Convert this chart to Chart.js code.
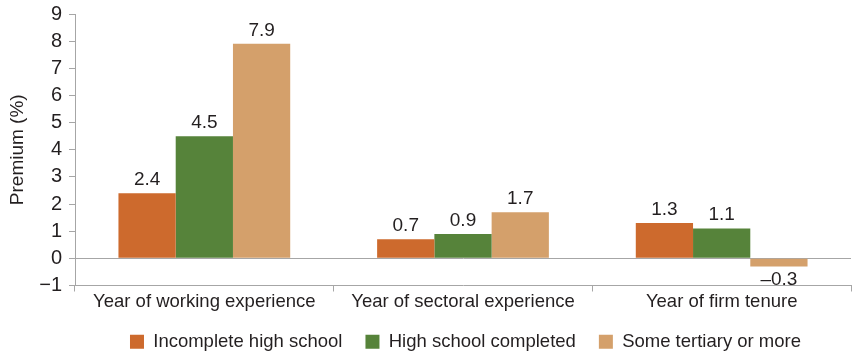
<!DOCTYPE html>
<html>
<head>
<meta charset="utf-8">
<script src="https://cdn.jsdelivr.net/npm/chart.js@4"></script>
<style>
  html, body { margin: 0; padding: 0; background: #fff; }
  #wrap { width: 852px; height: 354px; }
</style>
</head>
<body>
<div id="wrap"><canvas id="premiumChart"></canvas></div>
<script>
// Returns to experience by education level
const categories = ["Year of working experience", "Year of sectoral experience", "Year of firm tenure"];
const incompleteHighSchool = [2.4, 0.7, 1.3];
const highSchoolCompleted = [4.5, 0.9, 1.1];
const someTertiary = [7.9, 1.7, -0.3];
const yTicks = [-1, 0, 1, 2, 3, 4, 5, 6, 7, 8, 9];

const FONT = "'Liberation Sans', Arial, sans-serif";
const TEXT = "#231f20";
const AXIS = "#a6a6a6";

// value labels above (or below) each bar
const barLabels = {
  id: "barLabels",
  afterDatasetsDraw(chart) {
    const ctx = chart.ctx;
    ctx.save();
    ctx.font = "19px " + FONT;
    ctx.fillStyle = TEXT;
    ctx.textAlign = "center";
    ctx.textBaseline = "alphabetic";
    chart.data.datasets.forEach((ds, i) => {
      chart.getDatasetMeta(i).data.forEach((bar, j) => {
        const v = ds.data[j];
        const txt = v < 0 ? "\u2013" + Math.abs(v).toFixed(1) : v.toFixed(1);
        if (v >= 0) {
          ctx.fillText(txt, bar.x, bar.y - 8);
        } else {
          ctx.fillText(txt, bar.x, bar.y + 19);
        }
      });
    });
    ctx.restore();
  },
};

// centre the legend under the plot area rather than the whole canvas
const legendShift = {
  id: "legendShift",
  afterLayout(chart) {
    const lg = chart.legend;
    if (!lg) return;
    lg.left = chart.chartArea.left + 5;
    lg.top -= 2;
    lg.bottom -= 2;
  },
};

const ctx = document.getElementById("premiumChart").getContext("2d");
new Chart(ctx, {
  type: "bar",
  data: {
    labels: categories,
    datasets: [
      {
        label: "Incomplete high school",
        data: incompleteHighSchool,
        backgroundColor: "#cd6a2d",
      },
      {
        label: "High school completed",
        data: highSchoolCompleted,
        backgroundColor: "#56833a",
      },
      {
        label: "Some tertiary or more",
        data: someTertiary,
        backgroundColor: "#d4a06b",
      },
    ],
  },
  options: {
    responsive: true,
    maintainAspectRatio: false,
    animation: false,
    layout: { padding: { top: 14, right: 1, left: 0, bottom: -9 } },
    datasets: {
      bar: { categoryPercentage: 0.664, barPercentage: 1.0 },
    },
    plugins: {
      legend: {
        position: "bottom",
        labels: {
          font: { size: 18.5, family: FONT },
          color: TEXT,
          boxWidth: 14,
          boxHeight: 14,
          padding: 23,
        },
      },
      tooltip: { enabled: false },
    },
    scales: {
      x: {
        afterFit(axis) {
          axis.height = 26;
        },
        grid: {
          display: true,
          offset: true,
          drawOnChartArea: false,
          color: AXIS,
          tickColor: AXIS,
          tickLength: 6,
        },
        border: { color: AXIS, width: 1 },
        ticks: {
          color: TEXT,
          font: { size: 18.5, family: FONT },
          padding: -1,
        },
      },
      y: {
        min: -1,
        max: 9,
        afterFit(axis) {
          axis.width = 75;
          axis.paddingTop = 0;
          axis.paddingBottom = 0;
        },
        afterBuildTicks(axis) {
          axis.ticks = yTicks.map((v) => ({ value: v }));
        },
        grid: {
          color: (c) => (c.tick && c.tick.value === 0 ? AXIS : "rgba(0,0,0,0)"),
          tickColor: AXIS,
          tickLength: 6,
        },
        border: { color: AXIS, width: 1 },
        ticks: {
          autoSkip: false,
          color: TEXT,
          font: { size: 20, family: FONT },
          padding: 7,
          callback: (v) => (v < 0 ? "\u2212" + Math.abs(v) : String(v)),
        },
        title: {
          display: true,
          text: "Premium (%)",
          color: TEXT,
          font: { size: 19, family: FONT },
          padding: { top: 6, bottom: 0 },
        },
      },
    },
  },
  plugins: [barLabels, legendShift],
});
</script>
</body>
</html>
